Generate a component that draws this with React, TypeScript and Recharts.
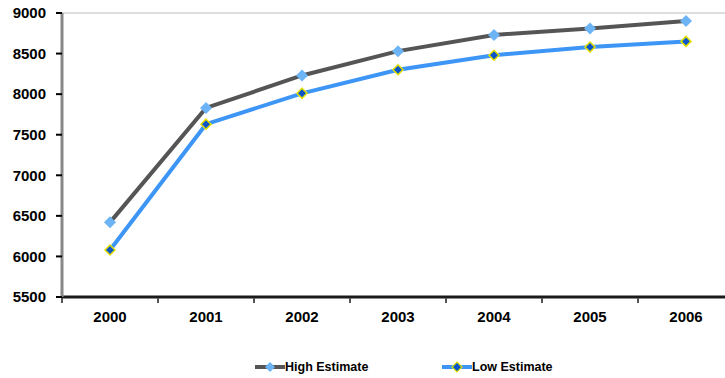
import { Line, LineChart, XAxis, YAxis, ReferenceLine } from "recharts";

const years = ["2000", "2001", "2002", "2003", "2004", "2005", "2006"];
const highEstimate = [6420, 7830, 8230, 8530, 8730, 8810, 8900];
const lowEstimate = [6080, 7630, 8010, 8300, 8480, 8580, 8650];
const yTicks = [5500, 6000, 6500, 7000, 7500, 8000, 8500, 9000];

const HIGH_LINE = "#555555";
const HIGH_MARK = "#6cb4f5";
const LOW_LINE = "#3d95f5";
const LOW_MARK = "#0b55c8";
const LOW_MARK_EDGE = "#e2e000";

const FONT = "'Liberation Sans', Arial, sans-serif";

// plot area geometry
const CHART_W = 735;
const Y_AXIS_W = 62;
const RIGHT_MARGIN = 1;
const HALF_BAND = (CHART_W - Y_AXIS_W - RIGHT_MARGIN) / years.length / 2;

const chartData = years.map((year, i) => ({
  year,
  high: highEstimate[i],
  low: lowEstimate[i],
}));

function Diamond(props: any) {
  const { cx, cy, fill, stroke, size } = props;
  if (cx == null || cy == null) return null;
  const r = size;
  return (
    <path
      d={`M${cx},${cy - r}L${cx + r},${cy}L${cx},${cy + r}L${cx - r},${cy}Z`}
      fill={fill}
      stroke={stroke}
      strokeWidth={stroke ? 1.5 : 0}
    />
  );
}

/** Year label centred in its band, with the tick mark on the band's left edge. */
function YearTick(props: any) {
  const { x, y, payload } = props;
  const left = x - HALF_BAND;
  return (
    <g>
      <line x1={left} y1={y - 13} x2={left} y2={y - 8} stroke="#555" strokeWidth={2} />
      <text
        x={x}
        y={y}
        dy="0.71em"
        textAnchor="middle"
        fill="#000"
        fontSize={15}
        fontWeight="bold"
        fontFamily={FONT}
      >
        {payload.value}
      </text>
    </g>
  );
}

function LegendItem({
  line,
  mark,
  edge,
  label,
  left,
}: {
  line: string;
  mark: string;
  edge?: string;
  label: string;
  left: number;
}) {
  return (
    <div
      style={{
        position: "absolute",
        left,
        top: 360,
        display: "flex",
        alignItems: "center",
        fontFamily: FONT,
        fontWeight: "bold",
        fontSize: 12.5,
        color: "#000",
      }}
    >
      <svg width={30} height={12}>
        <line x1={0} y1={6} x2={30} y2={6} stroke={line} strokeWidth={4} />
        <path
          d="M15,1L20,6L15,11L10,6Z"
          fill={mark}
          stroke={edge}
          strokeWidth={edge ? 1.2 : 0}
        />
      </svg>
      <span>{label}</span>
    </div>
  );
}

export default function App() {
  return (
    <div
      style={{
        position: "absolute",
        left: 0,
        top: 0,
        width: 725,
        height: 378,
        overflow: "hidden",
        background: "#fff",
      }}
    >
      <LineChart
        width={CHART_W}
        height={378}
        data={chartData}
        margin={{ top: 13, right: RIGHT_MARGIN, left: 0, bottom: 51 }}
      >
        <ReferenceLine y={9000} stroke="#dddddd" strokeWidth={2} />
        <XAxis
          dataKey="year"
          height={30}
          padding={{ left: HALF_BAND, right: HALF_BAND }}
          axisLine={{ stroke: "#1a1a1a", strokeWidth: 3 }}
          tickLine={false}
          tickSize={5}
          tickMargin={9}
          interval={0}
          tick={<YearTick />}
        />
        <YAxis
          type="number"
          width={Y_AXIS_W}
          domain={[5500, 9000]}
          ticks={yTicks}
          interval={0}
          axisLine={{ stroke: "#888888", strokeWidth: 3 }}
          tickLine={{ stroke: "#000", strokeWidth: 2 }}
          tickSize={6}
          tickMargin={10}
          tick={{
            fill: "#000",
            fontSize: 15,
            fontWeight: "bold",
            fontFamily: FONT,
          }}
        />
        <Line
          type="linear"
          dataKey="high"
          name="High Estimate"
          stroke={HIGH_LINE}
          strokeWidth={4}
          dot={(p: any) => (
            <Diamond key={`h${p.index}`} {...p} fill={HIGH_MARK} stroke={undefined} size={6} />
          )}
          isAnimationActive={false}
        />
        <Line
          type="linear"
          dataKey="low"
          name="Low Estimate"
          stroke={LOW_LINE}
          strokeWidth={4}
          dot={(p: any) => (
            <Diamond key={`l${p.index}`} {...p} fill={LOW_MARK} stroke={LOW_MARK_EDGE} size={5} />
          )}
          isAnimationActive={false}
        />
      </LineChart>
      <LegendItem line={HIGH_LINE} mark={HIGH_MARK} label="High Estimate" left={255} />
      <LegendItem
        line={LOW_LINE}
        mark={LOW_MARK}
        edge={LOW_MARK_EDGE}
        label="Low Estimate"
        left={442}
      />
    </div>
  );
}
